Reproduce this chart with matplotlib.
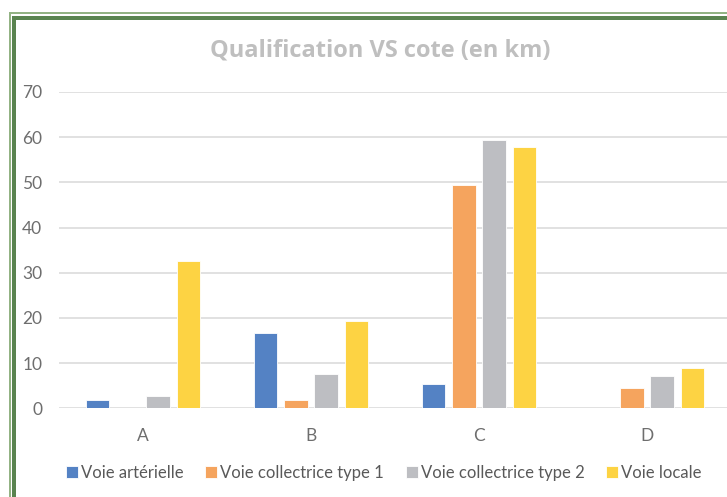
import numpy as np
import matplotlib
matplotlib.use("Agg")
import matplotlib.pyplot as plt
from matplotlib.patches import Rectangle

plt.rcParams['font.family'] = ['Lato', 'DejaVu Sans']

# Données (km)
categories = ['A', 'B', 'C', 'D']
series_names = ['Voie artérielle', 'Voie collectrice type 1',
                'Voie collectrice type 2', 'Voie locale']
arterielle = [1.9, 16.6, 5.3, 0]
collectrice_1 = [0, 1.9, 49.4, 4.4]
collectrice_2 = [2.7, 7.7, 59.3, 7.2]
locale = [32.7, 19.4, 57.8, 9.0]
colors = ['#5482C4', '#F5A45E', '#BDBEC2', '#FDD343']

fig = plt.figure(figsize=(7.27, 4.97), dpi=100)
W, H = 727, 497

# cadre vert (double trait)
fig.patches.append(Rectangle((9 / W, 0), 2 / W, 1 - 13 / H, transform=fig.transFigure,
                             facecolor='#93B384', edgecolor='none'))
fig.patches.append(Rectangle((9 / W, 1 - 14 / H), 1, 2 / H, transform=fig.transFigure,
                             facecolor='#93B384', edgecolor='none'))
fig.patches.append(Rectangle((12 / W, 0), 4 / W, 1 - 16 / H, transform=fig.transFigure,
                             facecolor='#5A8450', edgecolor='none'))
fig.patches.append(Rectangle((12 / W, 1 - 20 / H), 1, 4 / H, transform=fig.transFigure,
                             facecolor='#5A8450', edgecolor='none'))

ax = fig.add_axes([59 / W, (H - 408.3) / H, 672 / W, (408.3 - 92) / H])

x = np.arange(len(categories))
step = 0.1815
width = 0.14
all_series = [arterielle, collectrice_1, collectrice_2, locale]
for i, (vals, name, c) in enumerate(zip(all_series, series_names, colors)):
    ax.bar(x + (i - 1.5) * step, vals, width, color=c, label=name,
           edgecolor='#FFFFFF', linewidth=0.6, zorder=3)

ax.set_xlim(-0.5, 3.5)
ax.set_ylim(0, 70)
ax.set_yticks(range(0, 71, 10))
ax.set_xticks(x)
ax.set_xticklabels(categories)
ax.grid(axis='y', color='#DCDCDC', linewidth=1.2, zorder=0)
for s in ax.spines.values():
    s.set_visible(False)
ax.tick_params(axis='both', length=0, labelsize=12.5, labelcolor='#6E6E6E')
ax.tick_params(axis='y', pad=12)
ax.tick_params(axis='x', pad=14)

fig.text(380 / W, 1 - 51 / H, 'Qualification VS cote (en km)', ha='center', va='center',
         fontsize=17, fontweight='bold', color='#BFBFBF', family='Open Sans')

fig.legend(loc='center', bbox_to_anchor=(384 / W, 1 - 473 / H), ncol=4, frameon=False,
           fontsize=12, handlelength=0.7, handleheight=0.7, handletextpad=0.2,
           columnspacing=1.3, labelcolor='#595959')

fig.savefig('out.png', dpi=100)
